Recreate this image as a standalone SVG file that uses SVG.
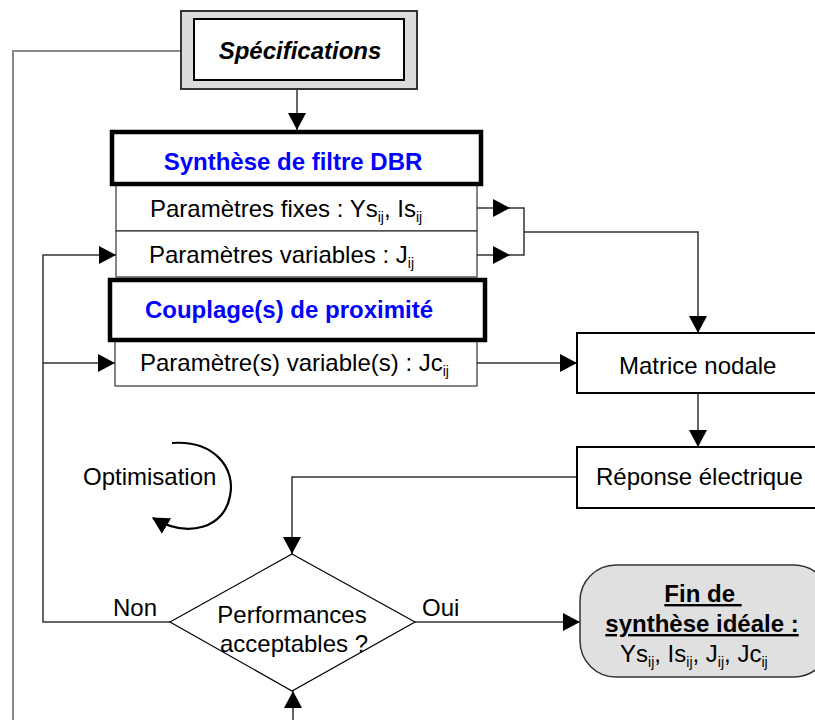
<svg xmlns="http://www.w3.org/2000/svg" width="815" height="720" viewBox="0 0 815 720">
<defs>
<marker id="ah" markerUnits="userSpaceOnUse" markerWidth="18" markerHeight="20" refX="17" refY="9" orient="auto" viewBox="0 0 18 18">
<path d="M0,0 L17,9 L0,18 Z" fill="#000"/>
</marker>
<marker id="ahs" markerUnits="userSpaceOnUse" markerWidth="18" markerHeight="18" refX="14" refY="8" orient="auto" viewBox="0 0 16 16">
<path d="M0,0 L15,8 L0,16 Z" fill="#000"/>
</marker>
</defs>
<style>
text{font-family:"Liberation Sans",Arial,sans-serif;font-size:24px;fill:#000}
.t{font-weight:bold;fill:#0000ff}
.sub{font-size:14px}
.c{fill:none;stroke:#333;stroke-width:1.5}
.row{fill:#fff;stroke:#333;stroke-width:1.2}
.thick{fill:#fff;stroke:#000;stroke-width:4.5}
.box{fill:#fff;stroke:#000;stroke-width:2}
.mid{text-anchor:middle}
</style>
<g id="connectors">
<polyline class="c" points="180,51 13,51 13,720" style="stroke:#888;stroke-width:2"/>
<line class="c" x1="297" y1="90" x2="297" y2="130" marker-end="url(#ah)"/>
<line class="c" x1="477" y1="208" x2="510" y2="208" marker-end="url(#ah)"/>
<line class="c" x1="477" y1="255" x2="510" y2="255" marker-end="url(#ah)"/>
<polyline class="c" points="508,208 524,208 524,255 508,255"/>
<polyline class="c" points="524,232 698,232 698,333" marker-end="url(#ah)"/>
<line class="c" x1="477" y1="363" x2="577" y2="363" marker-end="url(#ah)"/>
<line class="c" x1="698" y1="393" x2="698" y2="447" marker-end="url(#ah)"/>
<polyline class="c" points="577,477 292,477 292,554" marker-end="url(#ah)"/>
<polyline class="c" points="170,622 43,622 43,255 116,255" marker-end="url(#ah)"/>
<line class="c" x1="43" y1="363" x2="115" y2="363" marker-end="url(#ah)"/>
<line class="c" x1="415" y1="622" x2="580" y2="622" marker-end="url(#ah)"/>
<line class="c" x1="293" y1="720" x2="293" y2="691" marker-end="url(#ah)"/>
<path d="M172,443 C214,440 236,468 230,496 C225,526 190,540 153,518" fill="none" stroke="#000" stroke-width="2.2" marker-end="url(#ahs)"/>
</g>
<g id="specifications">
<rect x="181" y="11" width="236" height="78" fill="#dcdcdc" stroke="#333" stroke-width="2"/>
<rect x="194" y="19" width="210" height="61" fill="#fff" stroke="#000" stroke-width="2"/>
<text x="300" y="59" class="mid" font-weight="bold" font-style="italic">Spécifications</text>
</g>
<g id="filtre-dbr">
<rect class="row" x="116" y="185" width="361" height="46"/>
<rect class="row" x="116" y="231" width="361" height="46"/>
<rect class="thick" x="112" y="132" width="369" height="52"/>
<text x="293" y="170" class="mid t">Synthèse de filtre DBR</text>
<text x="150" y="217">Paramètres fixes : Ys<tspan class="sub" dy="5">ij</tspan><tspan dy="-5">, Is</tspan><tspan class="sub" dy="5">ij</tspan></text>
<text x="149" y="263">Paramètres variables : J<tspan class="sub" dy="5">ij</tspan></text>
</g>
<g id="couplage">
<rect class="row" x="115" y="340" width="362" height="46"/>
<rect class="thick" x="110" y="280" width="375" height="60"/>
<text x="289" y="318" class="mid t">Couplage(s) de proximité</text>
<text x="140" y="371">Paramètre(s) variable(s) : Jc<tspan class="sub" dy="5">ij</tspan></text>
</g>
<g id="matrice">
<rect class="box" x="577" y="333" width="260" height="60"/>
<text x="619" y="374">Matrice nodale</text>
</g>
<g id="reponse">
<rect class="box" x="577" y="447" width="260" height="61"/>
<text x="596" y="485">Réponse électrique</text>
</g>
<g id="optimisation">
<text x="83" y="485">Optimisation</text>
</g>
<g id="decision">
<polygon points="292,554 415,622 292,691 170,622" fill="#fff" stroke="#000" stroke-width="1.2"/>
<text x="292" y="623" class="mid">Performances</text>
<text x="294" y="652" class="mid">acceptables ?</text>
<text x="113" y="616">Non</text>
<text x="422" y="616">Oui</text>
</g>
<g id="fin">
<rect x="580" y="565" width="250" height="112" rx="36" ry="36" fill="#e0e0e0" stroke="#333" stroke-width="1.5"/>
<text x="703" y="602" class="mid" font-weight="bold" text-decoration="underline">Fin de&#160;</text>
<text x="702" y="632" class="mid" font-weight="bold" text-decoration="underline">synthèse idéale :</text>
<text x="620" y="662">Ys<tspan class="sub" dy="5">ij</tspan><tspan dy="-5">, Is</tspan><tspan class="sub" dy="5">ij</tspan><tspan dy="-5">, J</tspan><tspan class="sub" dy="5">ij</tspan><tspan dy="-5">, Jc</tspan><tspan class="sub" dy="5">ij</tspan></text>
</g>
</svg>
